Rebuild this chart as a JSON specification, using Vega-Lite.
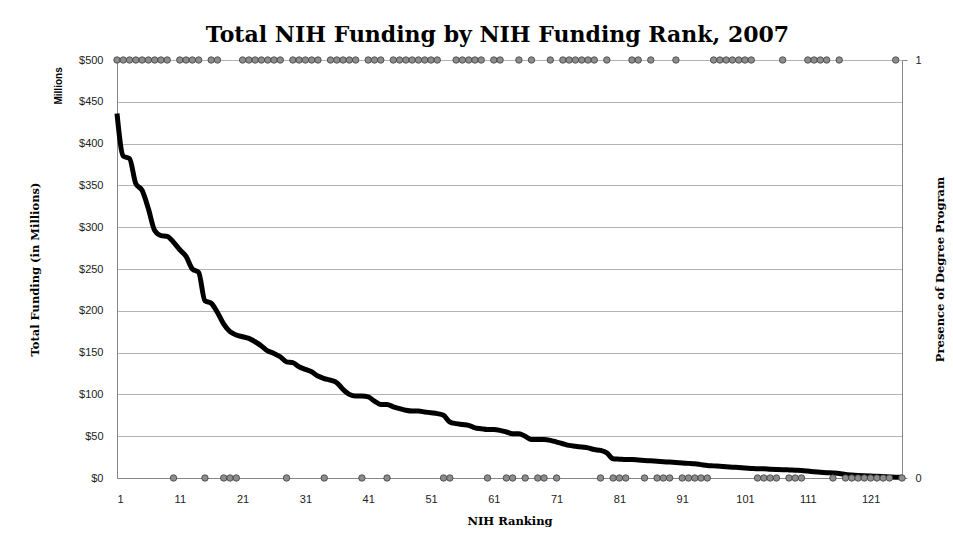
{
  "$schema": "https://vega.github.io/schema/vega-lite/v6.json",
  "width": 785,
  "height": 418,
  "autosize": {"type": "none"},
  "padding": {"left": 117, "top": 60, "right": 51, "bottom": 70},
  "background": "white",
  "title": {"text": "Total NIH Funding by NIH Funding Rank, 2007", "font": "DejaVu Serif", "fontSize": 22, "fontWeight": "bold", "color": "#000000", "offset": 7, "dx": -12, "anchor": "middle"},
  "config": {"view": {"stroke": null}, "font": "Liberation Sans"},
  "data": {"values": [
    {"rank":1,"funding":436,"degree":1},{"rank":2,"funding":385,"degree":1},{"rank":3,"funding":382,"degree":1},{"rank":4,"funding":352,"degree":1},{"rank":5,"funding":344,"degree":1},
    {"rank":6,"funding":322,"degree":1},{"rank":7,"funding":296,"degree":1},{"rank":8,"funding":290,"degree":1},{"rank":9,"funding":289,"degree":1},{"rank":10,"funding":282,"degree":0},
    {"rank":11,"funding":273,"degree":1},{"rank":12,"funding":265,"degree":1},{"rank":13,"funding":250,"degree":1},{"rank":14,"funding":246,"degree":1},{"rank":15,"funding":212,"degree":0},
    {"rank":16,"funding":209,"degree":1},{"rank":17,"funding":198,"degree":1},{"rank":18,"funding":184,"degree":0},{"rank":19,"funding":175,"degree":0},{"rank":20,"funding":171,"degree":0},
    {"rank":21,"funding":169,"degree":1},{"rank":22,"funding":167,"degree":1},{"rank":23,"funding":163,"degree":1},{"rank":24,"funding":158,"degree":1},{"rank":25,"funding":152,"degree":1},
    {"rank":26,"funding":149,"degree":1},{"rank":27,"funding":145,"degree":1},{"rank":28,"funding":139,"degree":0},{"rank":29,"funding":138,"degree":1},{"rank":30,"funding":133,"degree":1},
    {"rank":31,"funding":130,"degree":1},{"rank":32,"funding":127,"degree":1},{"rank":33,"funding":122,"degree":1},{"rank":34,"funding":119,"degree":0},{"rank":35,"funding":117,"degree":1},
    {"rank":36,"funding":114,"degree":1},{"rank":37,"funding":106,"degree":1},{"rank":38,"funding":100,"degree":1},{"rank":39,"funding":98,"degree":1},{"rank":40,"funding":98,"degree":0},
    {"rank":41,"funding":97,"degree":1},{"rank":42,"funding":92,"degree":1},{"rank":43,"funding":88,"degree":1},{"rank":44,"funding":88,"degree":0},{"rank":45,"funding":85,"degree":1},
    {"rank":46,"funding":83,"degree":1},{"rank":47,"funding":81,"degree":1},{"rank":48,"funding":80,"degree":1},{"rank":49,"funding":80,"degree":1},{"rank":50,"funding":79,"degree":1},
    {"rank":51,"funding":78,"degree":1},{"rank":52,"funding":77,"degree":1},{"rank":53,"funding":75,"degree":0},{"rank":54,"funding":67,"degree":0},{"rank":55,"funding":65,"degree":1},
    {"rank":56,"funding":64,"degree":1},{"rank":57,"funding":63,"degree":1},{"rank":58,"funding":60,"degree":1},{"rank":59,"funding":59,"degree":1},{"rank":60,"funding":58,"degree":0},
    {"rank":61,"funding":58,"degree":1},{"rank":62,"funding":57,"degree":1},{"rank":63,"funding":55,"degree":0},{"rank":64,"funding":53,"degree":0},{"rank":65,"funding":53,"degree":1},
    {"rank":66,"funding":50,"degree":0},{"rank":67,"funding":46,"degree":1},{"rank":68,"funding":46,"degree":0},{"rank":69,"funding":46,"degree":0},{"rank":70,"funding":45,"degree":1},
    {"rank":71,"funding":43,"degree":0},{"rank":72,"funding":41,"degree":1},{"rank":73,"funding":39,"degree":1},{"rank":74,"funding":38,"degree":1},{"rank":75,"funding":37,"degree":1},
    {"rank":76,"funding":36,"degree":1},{"rank":77,"funding":34,"degree":1},{"rank":78,"funding":33,"degree":0},{"rank":79,"funding":30,"degree":1},{"rank":80,"funding":23,"degree":0},
    {"rank":81,"funding":22.5,"degree":0},{"rank":82,"funding":22,"degree":0},{"rank":83,"funding":22,"degree":1},{"rank":84,"funding":21.5,"degree":1},{"rank":85,"funding":21,"degree":0},
    {"rank":86,"funding":20.5,"degree":1},{"rank":87,"funding":20,"degree":0},{"rank":88,"funding":19.5,"degree":0},{"rank":89,"funding":19,"degree":0},{"rank":90,"funding":18.5,"degree":1},
    {"rank":91,"funding":18,"degree":0},{"rank":92,"funding":17.5,"degree":0},{"rank":93,"funding":17,"degree":0},{"rank":94,"funding":16,"degree":0},{"rank":95,"funding":15,"degree":0},
    {"rank":96,"funding":14.5,"degree":1},{"rank":97,"funding":14,"degree":1},{"rank":98,"funding":13.5,"degree":1},{"rank":99,"funding":13,"degree":1},{"rank":100,"funding":12.5,"degree":1},
    {"rank":101,"funding":12,"degree":1},{"rank":102,"funding":11.5,"degree":1},{"rank":103,"funding":11,"degree":0},{"rank":104,"funding":11,"degree":0},{"rank":105,"funding":10.5,"degree":0},
    {"rank":106,"funding":10.2,"degree":0},{"rank":107,"funding":10,"degree":1},{"rank":108,"funding":9.7,"degree":0},{"rank":109,"funding":9.3,"degree":0},{"rank":110,"funding":9,"degree":0},
    {"rank":111,"funding":8.3,"degree":1},{"rank":112,"funding":7.5,"degree":1},{"rank":113,"funding":6.8,"degree":1},{"rank":114,"funding":6.3,"degree":1},{"rank":115,"funding":6,"degree":0},
    {"rank":116,"funding":5.5,"degree":1},{"rank":117,"funding":4.2,"degree":0},{"rank":118,"funding":3.5,"degree":0},{"rank":119,"funding":3,"degree":0},{"rank":120,"funding":2.6,"degree":0},
    {"rank":121,"funding":2.3,"degree":0},{"rank":122,"funding":2,"degree":0},{"rank":123,"funding":1.7,"degree":0},{"rank":124,"funding":1.3,"degree":0},{"rank":125,"funding":1,"degree":1},
    {"rank":126,"funding":0.8,"degree":0}
  ]},
  "layer": [
    {
      "mark": {"type": "line", "color": "#000000", "strokeWidth": 5, "interpolate": "monotone"},
      "encoding": {
        "x": {"field": "rank", "type": "quantitative", "scale": {"domain": [1, 126], "nice": false, "zero": false},
          "axis": {"title": "NIH Ranking", "values": [1, 11, 21, 31, 41, 51, 61, 71, 81, 91, 101, 111, 121], "grid": false, "ticks": false, "domainColor": "#868686", "labelFont": "Liberation Sans", "labelFontSize": 11, "labelColor": "#222222", "labelPadding": 15, "titleFont": "DejaVu Serif", "titleFontSize": 11.5, "titleFontWeight": "bold", "titleColor": "#000000", "titlePadding": 11}},
        "y": {"field": "funding", "type": "quantitative", "scale": {"domain": [0, 500], "nice": false},
          "axis": {"orient": "left", "values": [0, 50, 100, 150, 200, 250, 300, 350, 400, 450, 500], "format": "$d", "grid": true, "gridColor": "#b3b3b3", "domainColor": "#868686", "ticks": false, "labelFont": "Liberation Sans", "labelFontSize": 11, "labelColor": "#222222", "labelPadding": 14,
            "title": "Total Funding (in Millions)", "titleFont": "DejaVu Serif", "titleFontSize": 11.5, "titleFontWeight": "bold", "titleColor": "#000000", "titleAngle": 270, "titleX": -82, "titleY": 209, "titleAlign": "center", "titleBaseline": "middle"}}
      }
    },
    {
      "mark": {"type": "circle", "fill": "#8c8c8c", "stroke": "#3f3f3f", "strokeWidth": 0.8, "size": 42, "opacity": 1},
      "encoding": {
        "x": {"field": "rank", "type": "quantitative"},
        "y": {"field": "degree", "type": "quantitative", "scale": {"domain": [0, 1], "nice": false},
          "axis": {"orient": "right", "values": [0, 1], "format": "d", "grid": false, "domainColor": "#868686", "tickColor": "#868686", "tickSize": 5, "labelFont": "Liberation Sans", "labelFontSize": 11, "labelColor": "#222222", "labelPadding": 8,
            "title": "Presence of Degree Program", "titleFont": "DejaVu Serif", "titleFontSize": 11.5, "titleFontWeight": "bold", "titleColor": "#000000", "titleAngle": 270, "titleX": 38, "titleY": 209, "titleAlign": "center", "titleBaseline": "middle"}}
      }
    },
    {
      "data": {"values": [{"label": "Millions"}]},
      "mark": {"type": "text", "angle": 270, "clip": false, "font": "Liberation Sans", "fontSize": 10, "fontWeight": "bold", "color": "#000000", "align": "center", "baseline": "middle"},
      "encoding": {
        "x": {"datum": -8.2, "type": "quantitative"},
        "y": {"datum": 469, "type": "quantitative", "scale": {"domain": [0, 500], "nice": false}, "axis": null},
        "text": {"field": "label", "type": "nominal"}
      }
    }
  ],
  "resolve": {"scale": {"y": "independent"}}
}
